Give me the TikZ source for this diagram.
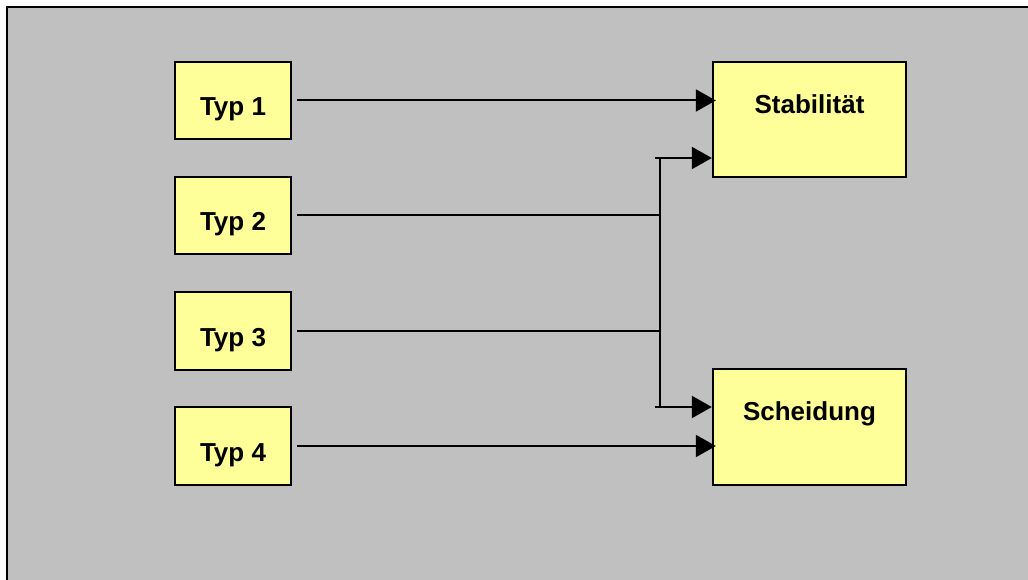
\documentclass[tikz,border=0pt]{standalone}
\usepackage{fontspec}
\setmainfont{Liberation Sans}
\usetikzlibrary{calc, arrows.meta, positioning}

\definecolor{hintergrund}{HTML}{C0C0C0}
\definecolor{kastengelb}{HTML}{FFFF99}

\begin{document}
\begin{tikzpicture}[x=0.75pt, y=-0.75pt,
		typbox/.style = {draw, line width=1.5pt, fill=kastengelb, inner sep=0pt,
			minimum width=87pt, minimum height=58pt, text height=23pt, text depth=0pt,
			font=\bfseries\fontsize{19.5}{23}\selectfont},
		zielbox/.style = {draw, line width=1.5pt, fill=kastengelb, inner sep=0pt,
			minimum width=145pt, minimum height=86.5pt, text height=0pt, text depth=9pt,
			font=\bfseries\fontsize{19.5}{23}\selectfont},
		linie/.style = {line width=1.5pt},
		pfeil/.style = {line width=1.5pt, -{Triangle[length=15pt, width=16.5pt]}}]
		%picture size and background
		\useasboundingbox (0,0) rectangle (1028,580);
		\fill [hintergrund] (7,7) rectangle (1028,580);
		\draw [line width=1.5pt] (7,580) -- (7,7) -- (1028,7);
		
		%boxes on the left
		\node [typbox] (typ1) at (233,100.5) {Typ 1};
		\node [typbox] (typ2) at (233,215.5) {Typ 2};
		\node [typbox] (typ3) at (233,331) {Typ 3};
		\node [typbox] (typ4) at (233,446) {Typ 4};
		
		%boxes on the right
		\node [zielbox] (stab) at (809.5,119.5) {Stabilität};
		\node [zielbox] (scheid) at (809.5,427) {Scheidung};
		
		%branch points
		\coordinate (jtop) at (660,158);
		\coordinate (jbot) at (660,407);
		
		%direct arrows
		\draw [pfeil] ($(typ1.east)+(5,0)$) -- ($(stab.west |- typ1.east)+(4,0)$);
		\draw [pfeil] ($(typ4.east)+(5,0)$) -- ($(scheid.west |- typ4.east)+(4,0)$);
		
		%collected arrows
		\draw [linie] ($(typ2.east)+(5,0)$) -- (jtop |- typ2.east);
		\draw [linie] ($(typ3.east)+(5,0)$) -- (jtop |- typ3.east);
		\draw [linie] (jtop) -- (jbot);
		\draw [pfeil] ($(jtop)+(-5,0)$) -- (stab.west |- jtop);
		\draw [pfeil] ($(jbot)+(-5,0)$) -- (scheid.west |- jbot);
	\end{tikzpicture}
\end{document}
